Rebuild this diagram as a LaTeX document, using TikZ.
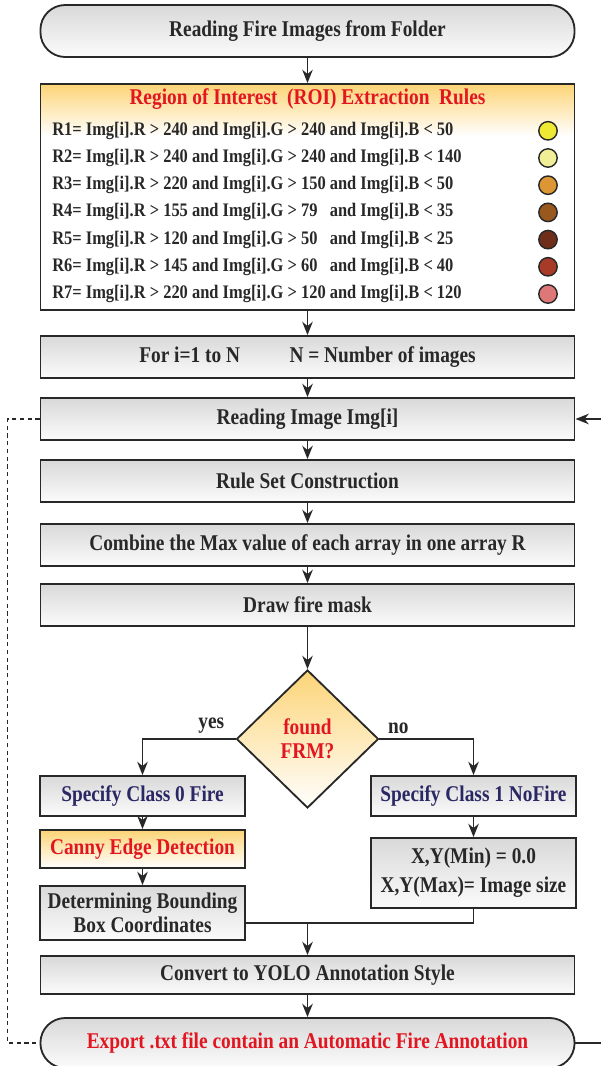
\documentclass[tikz,border=0pt]{standalone}
\usepackage{fontspec}
\setmainfont{Liberation Serif}[FakeStretch=0.86]
\usepackage{tikz}
\usetikzlibrary{calc}
\usetikzlibrary{arrows.meta}
\usetikzlibrary{shapes.geometric, positioning}

\definecolor{firered}{RGB}{226,22,32}
\definecolor{navy}{RGB}{42,40,100}
\definecolor{gold}{RGB}{252,212,118}
\definecolor{dark}{RGB}{40,40,40}
\definecolor{c1}{RGB}{238,234,52}
\definecolor{c2}{RGB}{240,238,150}
\definecolor{c3}{RGB}{220,150,52}
\definecolor{c4}{RGB}{152,88,30}
\definecolor{c5}{RGB}{110,46,26}
\definecolor{c6}{RGB}{168,58,40}
\definecolor{c7}{RGB}{222,120,120}

\begin{document}
\begin{tikzpicture}[x=0.025cm, y=-0.025cm,
    >={Stealth[length=9.5pt,width=7.5pt]},
    big/.style={font=\fontsize{16}{17}\selectfont\bfseries},
    box/.style={draw=dark, line width=1.3pt, top color=gray!30, bottom color=gray!3,
      big, text=dark, minimum height=1.05cm, inner sep=2pt},
    wide/.style={box, minimum width=13.35cm},
    half/.style={box, minimum width=5.125cm},
    term/.style={wide, rounded corners=0.62cm},
    yellow box/.style={top color=gold, bottom color=white},
    rule/.style={font=\fontsize{13.6}{16}\selectfont\bfseries, text=dark, inner sep=0pt},
    dot/.style={circle, draw=dark, line width=1pt, minimum size=0.46cm, inner sep=0pt},
    link/.style={dark, line width=1pt}]
    \useasboundingbox (0,0) rectangle (600,1066);

    \node[term, minimum height=1.3cm] (start) at (307.5,31) {Reading Fire Images from Folder};

    \fill[top color=gold, bottom color=white] (40,84) rectangle (574,136);
    \node[draw=dark, line width=1.3pt, minimum width=13.35cm, minimum height=5.65cm] (roi) at (307.5,197) {};
    \node[big, text=firered, inner sep=0pt] (title) at (307.5,99) {Region of Interest\ \ (ROI) Extraction\ \ Rules};
    \foreach \n/\r/\g/\b in {1/240/240/50, 2/240/240/140, 3/220/150/50, 4/155/79/35,
                             5/120/50/25, 6/145/60/40, 7/220/120/120} {
      \node[rule, anchor=west] (r\n) at (52,103.6+27.2*\n)
        {R\n= Img[i].R > \r{} and Img[i].G > \rlap{\g}\hphantom{240} and Img[i].B < \b};
      \node[dot, fill=c\n] (d\n) at (548,103.6+27.2*\n) {};
    }

    \node[wide] (loop) at (307.5,357) {For i=1 to N\hspace{2.2em}N = Number of images};
    \node[wide] (read) at (307.5,419) {Reading Image Img[i]};
    \node[wide] (rules) at (307.5,481) {Rule Set Construction};
    \node[wide] (combine) at (307.5,545) {Combine the Max value of each array in one array R};
    \node[wide] (mask) at (307.5,605) {Draw fire mask};

    \node[diamond, draw=dark, line width=1.3pt, yellow box, minimum width=3.55cm, minimum height=3.45cm,
      inner sep=0pt, align=center, big, text=firered]
      (found) at (307.5,739) {found\\FRM?};

    \node[half, text=navy, minimum height=1cm] (fire) at (142.5,796) {Specify Class 0 Fire};
    \node[half, text=navy, minimum height=1cm] (nofire) at (473.5,796) {Specify Class 1 NoFire};
    \node[half, yellow box, text=firered, minimum height=0.95cm] (canny) at (142.5,849) {Canny Edge Detection};
    \node[half, minimum height=1.35cm, align=center] (bbox) at (142.5,913) {Determining Bounding\\Box Coordinates};
    \node[half, minimum height=1.75cm, align=center, font=\fontsize{16}{20.5}\selectfont\bfseries]
      (size) at (473.5,873) {X,Y(Min) = 0.0\\X,Y(Max)= Image size};
    \node[wide, minimum height=0.95cm] (yolo) at (307.5,975) {Convert to YOLO Annotation Style};
    \node[term, minimum height=1.25cm, text=firered] (export) at (307.5,1043)
      {Export .txt file contain an Automatic Fire Annotation};
    \coordinate (merge) at (307.5,923);

    \draw[link, ->] (start) -- (roi);
    \draw[link, ->] (roi) -- (loop);
    \draw[link, ->] (loop) -- (read);
    \draw[link, ->] (read) -- (rules);
    \draw[link, ->] (rules) -- (combine);
    \draw[link, ->] (combine) -- (mask);
    \draw[link, ->] (mask) -- (found);
    \draw[link, ->] (found.west) -| node[pos=0.13, above, big, text=dark] {yes} (fire.north);
    \draw[link, ->] (found.east) -| node[pos=0.1, above, big, text=dark] {no} (nofire.north);
    \draw[link, ->] (fire) -- (canny);
    \draw[link, ->] (canny) -- (bbox);
    \draw[link, ->] (nofire) -- (size);
    \draw[link] (bbox.east |- merge) -- (merge -| size.south) -- (size.south);
    \draw[link, ->] (merge) -- (yolo);
    \draw[link, ->] (yolo) -- (export);
    \draw[link, dash pattern=on 3pt off 2.5pt] (read.west) -- ++(-32,0) |- (export.west);
    \draw[link, ->] (export.east) -- ++(40,0) |- (read.east);
  \end{tikzpicture}
\end{document}
